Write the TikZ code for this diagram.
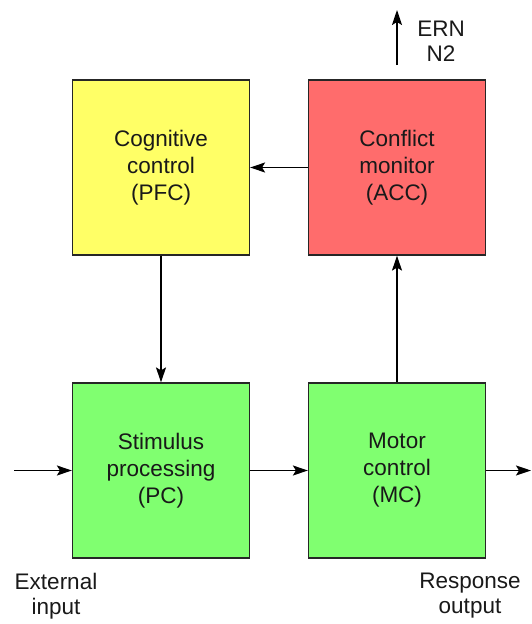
\documentclass[tikz,border=0pt]{standalone}
\usepackage{fontspec}
\setmainfont{Liberation Sans}
\usetikzlibrary{arrows.meta}
\definecolor{ccyellow}{RGB}{255,255,102}
\definecolor{ccred}{RGB}{255,108,108}
\definecolor{ccgreen}{RGB}{128,255,112}

\begin{document}
\begin{tikzpicture}[x=1pt,y=-1pt,
	block/.style={draw=black!85,line width=1.2pt,minimum width=177pt,minimum height=175pt,
		align=center,font=\fontsize{22.5}{27}\selectfont,text=black!90},
	label/.style={align=center,font=\fontsize{22.5}{25}\selectfont,text=black!90},
	flow/.style={line width=1.5pt,-{Stealth[length=15pt,width=10pt,inset=3pt]}}]
\useasboundingbox (0,0) rectangle (531,624);
	\node[block,fill=ccyellow] (pfc) at (161,167.5) {Cognitive\\control\\(PFC)};
	\node[block,fill=ccred] (acc) at (397,167.5) {Conflict\\monitor\\(ACC)};
	\node[block,fill=ccgreen] (pc) at (161,470.5) {Stimulus\\processing\\(PC)};
	\node[block,fill=ccgreen] (mc) at (397,470.5) {Motor\\control\\(MC)};
	\coordinate (in) at (14,470.5);
	\coordinate (out) at (531,470.5);
	\coordinate (erna) at (397,65);
	\coordinate (ernb) at (397,10);
	\node[label] (ern) at (441,41) {ERN\\N2};
	\node[label] (ext) at (56,596) {External\\input};
	\node[label] (resp) at (470,596) {Response\\output};
	\draw[flow] (acc) -- (pfc);
	\draw[flow] (pfc) -- (pc);
	\draw[flow] (mc) -- (acc);
	\draw[flow] (pc) -- (mc);
	\draw[flow] (in) -- (pc);
	\draw[flow] (mc) -- (out);
	\draw[flow] (erna) -- (ernb);
\end{tikzpicture}
\end{document}
